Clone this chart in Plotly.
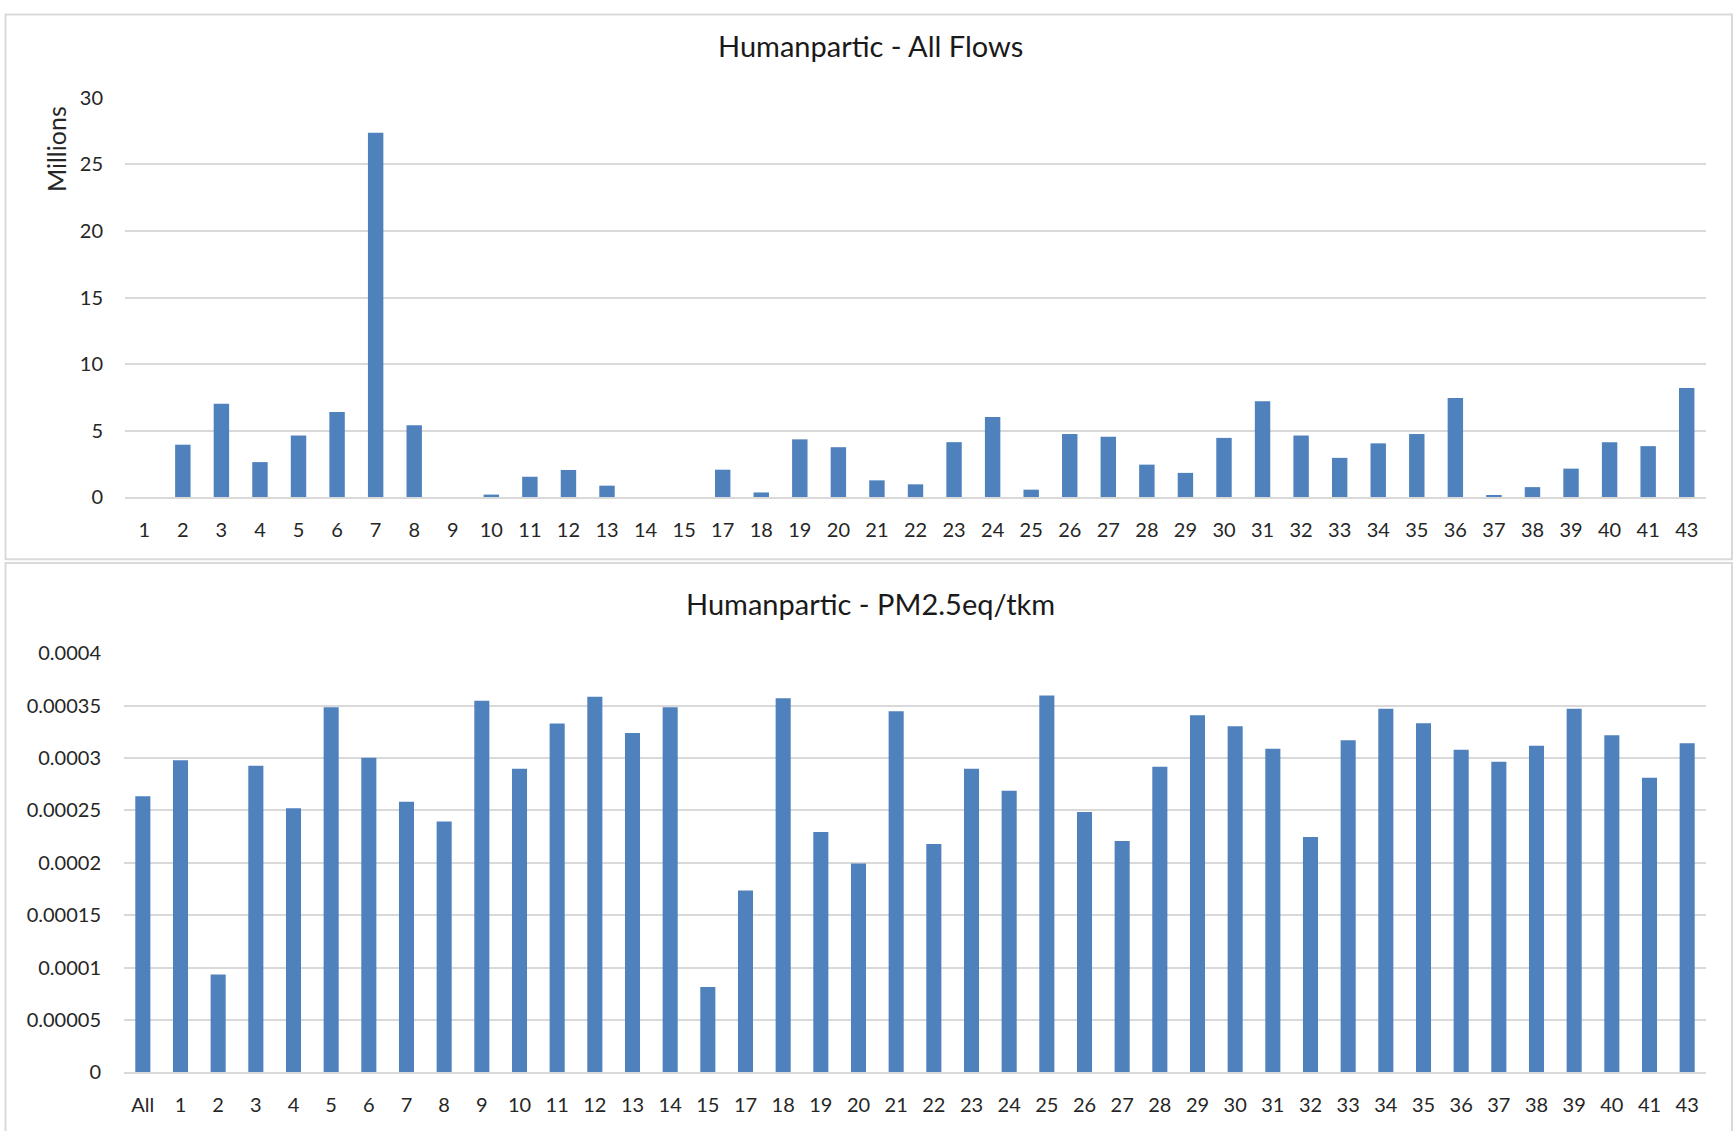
import plotly.graph_objects as go

# --- data -----------------------------------------------------------------
flow_categories = [str(i) for i in range(1, 16)] + [str(i) for i in range(17, 42)] + ["43"]
all_flows_millions = [
    0.0, 3.94, 7.02, 2.63, 4.63, 6.40, 27.38, 5.41, 0.0, 0.19,
    1.53, 2.04, 0.86, 0.0, 0.0, 2.06, 0.35, 4.34, 3.75, 1.26,
    0.96, 4.13, 6.03, 0.56, 4.74, 4.53, 2.44, 1.82, 4.45, 7.21,
    4.63, 2.95, 4.04, 4.74, 7.45, 0.16, 0.75, 2.14, 4.13, 3.83,
    8.20,
]

pm_categories = ["All"] + flow_categories
pm25_per_tkm = [
    0.0002634, 0.0002977, 0.0000933, 0.0002925, 0.0002519, 0.0003484,
    0.0003001, 0.0002582, 0.0002394, 0.0003546, 0.0002897, 0.0003328,
    0.0003584, 0.0003237, 0.0003484, 0.0000815, 0.0001735, 0.0003570,
    0.0002294, 0.0001992, 0.0003446, 0.0002179, 0.0002897, 0.0002686,
    0.0003595, 0.0002484, 0.0002207, 0.0002915, 0.0003407, 0.0003303,
    0.0003088, 0.0002245, 0.0003168, 0.0003470, 0.0003331, 0.0003078,
    0.0002963, 0.0003116, 0.0003470, 0.0003217, 0.0002811, 0.0003140,
]

top_tickvals = [0, 5, 10, 15, 20, 25, 30]
pm_tickvals = [0, 0.00005, 0.0001, 0.00015, 0.0002, 0.00025, 0.0003, 0.00035, 0.0004]
pm_ticktext = ["0", "0.00005", "0.0001", "0.00015", "0.0002", "0.00025", "0.0003", "0.00035", "0.0004"]

# --- styling --------------------------------------------------------------
W, H = 1734, 1131
BAR = "#4F81BD"
GRID = "#D9D9D9"
FONT = "Lato, 'Open Sans', sans-serif"
TICK_FONT = dict(family=FONT, size=20, color="#262626")
TITLE_FONT = dict(family=FONT, size=29, color="#1a1a1a")


def px_x(p):
    return p / W


def px_y(p):
    return 1 - p / H


fig = go.Figure()

fig.add_trace(go.Bar(
    x=flow_categories, y=all_flows_millions, marker=dict(color=BAR, line=dict(width=0)),
    xaxis="x", yaxis="y", showlegend=False,
))
fig.add_trace(go.Bar(
    x=pm_categories, y=pm25_per_tkm, marker=dict(color=BAR, line=dict(width=0)),
    xaxis="x2", yaxis="y2", showlegend=False,
))

fig.update_layout(
    width=W, height=H,
    margin=dict(l=0, r=0, t=0, b=0),
    paper_bgcolor="white", plot_bgcolor="white",
    bargap=0.6,
    font=dict(family=FONT),
    xaxis=dict(
        domain=[px_x(125), px_x(1706)], anchor="y", type="category",
        showgrid=False, showline=True, linecolor=GRID, linewidth=2,
        ticks="", tickfont=TICK_FONT, ticklabelstandoff=14, fixedrange=True,
    ),
    yaxis=dict(
        domain=[px_y(494.6), px_y(86.8)], anchor="x", range=[0, 30],
        tickvals=top_tickvals, showgrid=True, gridcolor=GRID, gridwidth=2,
        zeroline=False, showline=False, ticks="", tickfont=TICK_FONT,
        ticklabelstandoff=21, fixedrange=True,
    ),
    xaxis2=dict(
        domain=[px_x(124), px_x(1706)], anchor="y2", type="category",
        showgrid=False, showline=True, linecolor=GRID, linewidth=2,
        ticks="", tickfont=TICK_FONT, ticklabelstandoff=14, fixedrange=True,
    ),
    yaxis2=dict(
        domain=[px_y(1082.3), px_y(654)], anchor="x2", range=[0, 0.0004],
        tickvals=pm_tickvals, ticktext=pm_ticktext,
        showgrid=True, gridcolor=GRID, gridwidth=2,
        zeroline=False, showline=False, ticks="", tickfont=TICK_FONT,
        ticklabelstandoff=22, fixedrange=True,
    ),
    annotations=[
        dict(text="Humanpartic - All Flows", x=px_x(870), y=px_y(32.7), xref="paper", yref="paper",
             xanchor="center", yanchor="middle", showarrow=False, font=TITLE_FONT),
        dict(text="Humanpartic - PM2.5eq/tkm", x=px_x(870), y=px_y(603), xref="paper", yref="paper",
             xanchor="center", yanchor="middle", showarrow=False, font=TITLE_FONT),
        dict(text="Millions", x=px_x(56), y=px_y(139), xref="paper", yref="paper",
             xanchor="center", yanchor="middle", textangle=-90, showarrow=False,
             font=dict(family=FONT, size=25, color="#262626")),
    ],
    shapes=[
        dict(type="rect", xref="paper", yref="paper",
             x0=px_x(5.5), x1=px_x(1732), y0=px_y(558), y1=px_y(1.5),
             line=dict(color=GRID, width=2)),
        dict(type="rect", xref="paper", yref="paper",
             x0=px_x(5.5), x1=px_x(1732), y0=px_y(1220), y1=px_y(562),
             line=dict(color=GRID, width=2)),
    ],
)

fig.write_html("out.html")
